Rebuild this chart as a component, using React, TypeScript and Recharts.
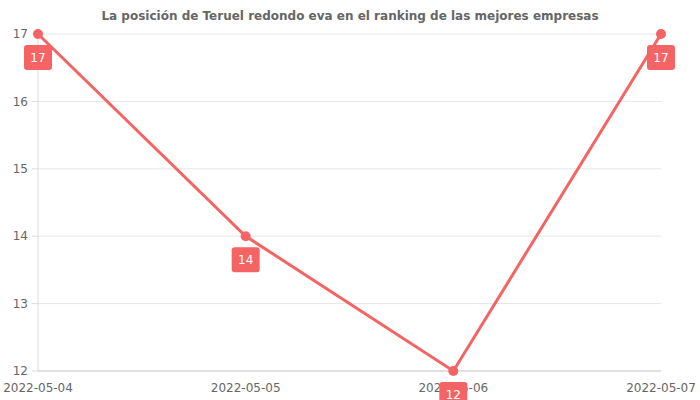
import React from "react";
import { LineChart, Line, XAxis, YAxis, CartesianGrid, LabelList } from "recharts";

const dates = ["2022-05-04", "2022-05-05", "2022-05-06", "2022-05-07"];
const positions = [17, 14, 12, 17];
const yTicks = [12, 13, 14, 15, 16, 17];
const title = "La posición de Teruel redondo eva en el ranking de las mejores empresas";

const data = dates.map((d, i) => ({ date: d, pos: positions[i] }));

const RED = "#f56464";
const FONT = "DejaVu Sans, sans-serif";

const BoxLabel = (props: any) => {
  const { x, y, value } = props;
  const w = 28;
  const h = 25;
  return (
    <g>
      <rect x={x - w / 2} y={y + 11} width={w} height={h} rx={3} ry={3} fill={RED} />
      <text x={x} y={y + 24} textAnchor="middle" dominantBaseline="central" fill="#fff" fontSize={12} fontFamily={FONT}>
        {value}
      </text>
    </g>
  );
};

export default function App() {
  return (
    <div style={{ position: "absolute", left: 0, top: 0, width: 700, height: 400, background: "#fff" }}>
      <div
        style={{
          position: "absolute",
          top: 9,
          left: 0,
          width: 700,
          textAlign: "center",
          fontFamily: FONT,
          fontWeight: "bold",
          fontSize: 12,
          color: "#666",
        }}
      >
        {title}
      </div>
      <LineChart width={700} height={400} data={data} margin={{ top: 34, right: 39, left: 0, bottom: 0 }}>
        <CartesianGrid vertical={false} stroke="#e6e6e6" />
        <XAxis
          dataKey="date"
          height={29}
          tickLine={false}
          tickSize={0}
          tickMargin={12}
          axisLine={{ stroke: "#cccccc" }}
          tick={{ fill: "#666", fontSize: 12, fontFamily: FONT }}
          interval={0}
        />
        <YAxis
          width={38}
          domain={[12, 17]}
          ticks={yTicks}
          tickSize={6}
          tickMargin={4}
          tickLine={{ stroke: "#dddddd" }}
          axisLine={{ stroke: "#dddddd" }}
          tick={{ fill: "#666", fontSize: 12, fontFamily: FONT }}
        />
        <Line
          dataKey="pos"
          stroke={RED}
          strokeWidth={3}
          dot={{ r: 5, fill: RED, stroke: RED, strokeWidth: 0 }}
          isAnimationActive={false}
        >
          <LabelList dataKey="pos" content={BoxLabel} />
        </Line>
      </LineChart>
    </div>
  );
}
